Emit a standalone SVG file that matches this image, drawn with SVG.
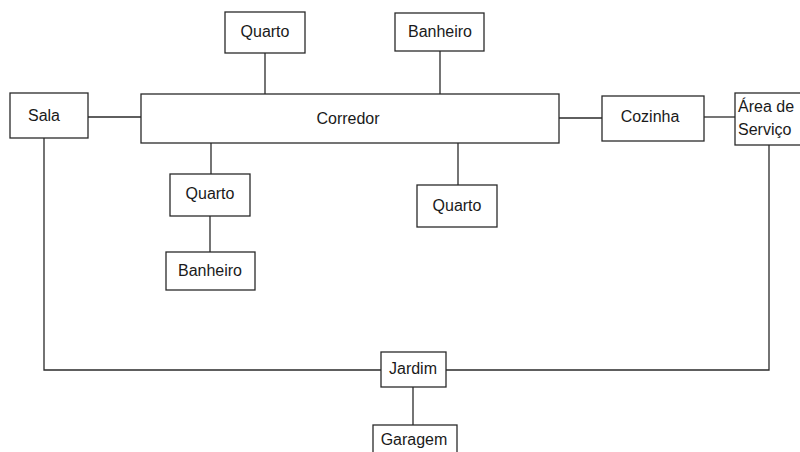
<svg xmlns="http://www.w3.org/2000/svg" width="800" height="452" viewBox="0 0 800 452">
  <style>
    .box { fill: #ffffff; stroke: #2a2a2a; stroke-width: 1.3; }
    .wire { fill: none; stroke: #2a2a2a; stroke-width: 1.3; }
    .lbl { font-family: "Liberation Sans", Arial, sans-serif; font-size: 16px; fill: #1a1a1a; text-anchor: middle; }
    .lbl-left { text-anchor: start; }
  </style>
  <rect width="800" height="452" fill="#ffffff"/>

  <!-- connectors -->
  <g id="connectors">
    <line class="wire" x1="265" y1="53" x2="265" y2="94"/>
    <line class="wire" x1="440" y1="51" x2="440" y2="94"/>
    <line class="wire" x1="88" y1="117" x2="141" y2="117"/>
    <line class="wire" x1="559" y1="118" x2="602" y2="118"/>
    <line class="wire" x1="704" y1="117" x2="735" y2="117"/>
    <line class="wire" x1="211" y1="143" x2="211" y2="174"/>
    <line class="wire" x1="210" y1="216" x2="210" y2="252"/>
    <line class="wire" x1="458" y1="143" x2="458" y2="185"/>
    <polyline class="wire" points="44,138 44,370 381,370"/>
    <polyline class="wire" points="769,145 769,370 446,370"/>
    <line class="wire" x1="413" y1="387" x2="413" y2="425"/>
  </g>

  <g id="corredor">
    <rect class="box" x="141" y="94" width="418" height="49"/>
    <text class="lbl" x="348" y="124">Corredor</text>
  </g>
  <g id="quarto-norte">
    <rect class="box" x="225" y="12" width="80" height="41"/>
    <text class="lbl" x="265" y="37">Quarto</text>
  </g>
  <g id="banheiro-norte">
    <rect class="box" x="395" y="13" width="89" height="38"/>
    <text class="lbl" x="440" y="37">Banheiro</text>
  </g>
  <g id="sala">
    <rect class="box" x="10" y="93" width="78" height="45"/>
    <text class="lbl" x="44" y="121">Sala</text>
  </g>
  <g id="cozinha">
    <rect class="box" x="602" y="96" width="102" height="45"/>
    <text class="lbl" x="650" y="122">Cozinha</text>
  </g>
  <g id="area-servico">
    <rect class="box" x="735" y="93" width="70" height="52"/>
    <text class="lbl lbl-left" x="738" y="112">Área de</text>
    <text class="lbl lbl-left" x="738" y="135">Serviço</text>
  </g>
  <g id="quarto-sul-esq">
    <rect class="box" x="170" y="174" width="80" height="42"/>
    <text class="lbl" x="210" y="199">Quarto</text>
  </g>
  <g id="banheiro-sul">
    <rect class="box" x="166" y="252" width="89" height="38"/>
    <text class="lbl" x="210" y="276">Banheiro</text>
  </g>
  <g id="quarto-sul-dir">
    <rect class="box" x="417" y="185" width="80" height="42"/>
    <text class="lbl" x="457" y="211">Quarto</text>
  </g>
  <g id="jardim">
    <rect class="box" x="381" y="352" width="65" height="35"/>
    <text class="lbl" x="413" y="374">Jardim</text>
  </g>
  <g id="garagem">
    <rect class="box" x="373" y="425" width="84" height="32"/>
    <text class="lbl" x="414" y="445">Garagem</text>
  </g>
</svg>
